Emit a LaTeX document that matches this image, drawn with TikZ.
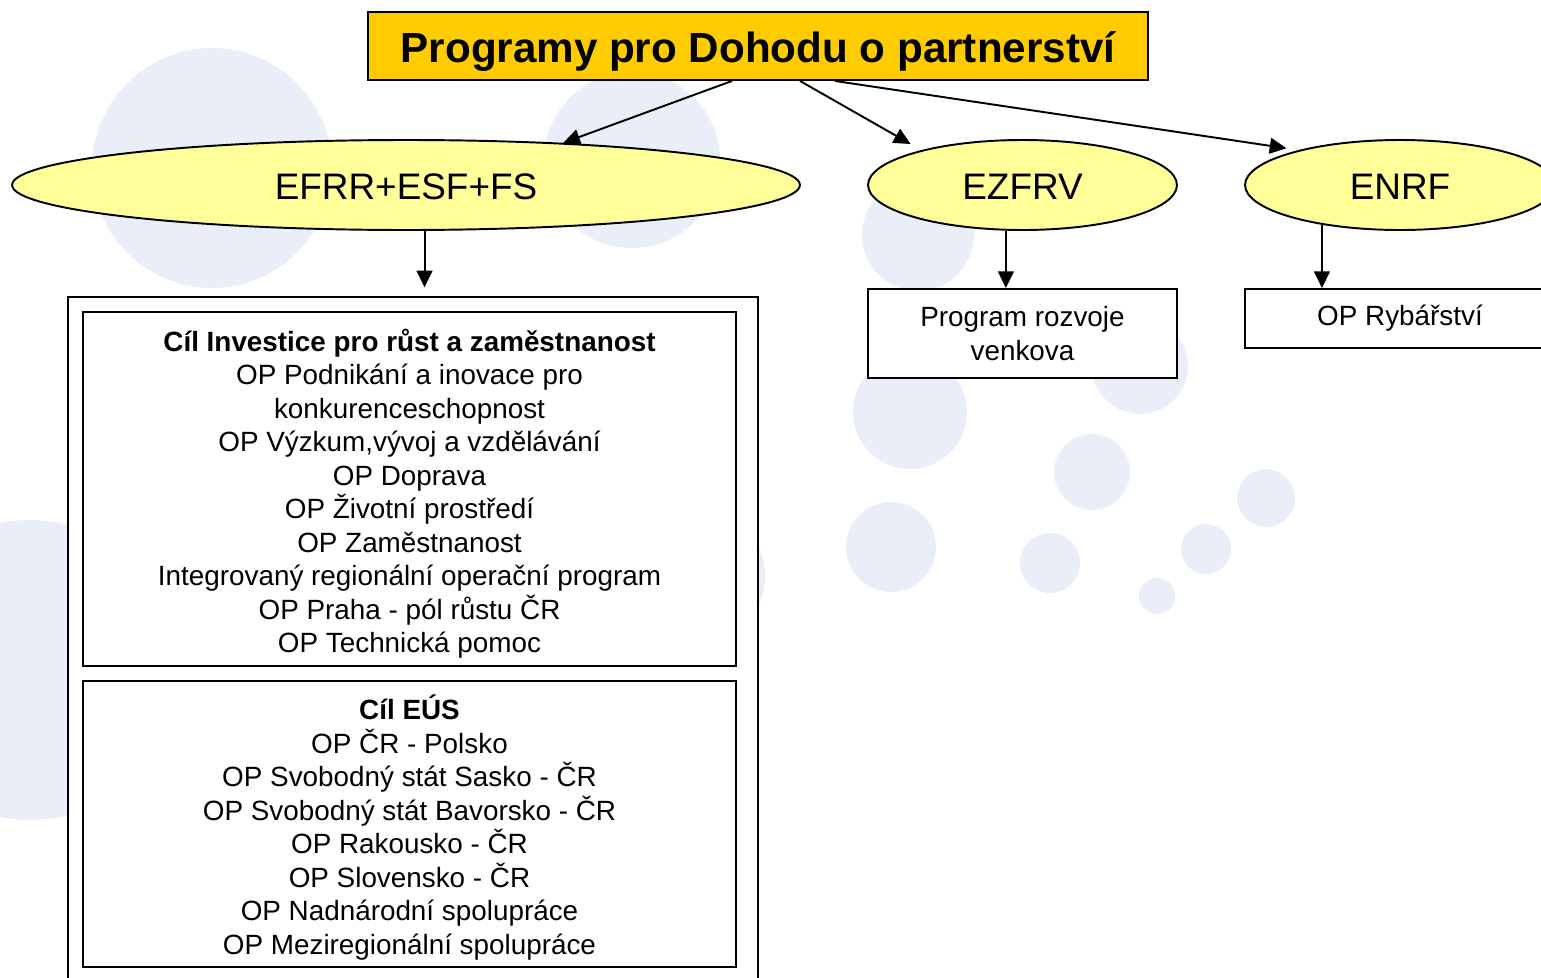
\documentclass[tikz,border=0pt]{standalone}
\usepackage{fontspec}
\setmainfont{Liberation Sans}
\usepackage{tikz}
\usetikzlibrary{arrows.meta}
\usetikzlibrary{shapes}
\usetikzlibrary{calc}
\tikzset{>={Triangle[length=9.5pt,width=9pt]}}
\definecolor{titlegold}{HTML}{FFCC00}
\definecolor{fundyellow}{HTML}{FFFF99}
\definecolor{bubble}{RGB}{234,238,248}

\begin{document}
\begin{tikzpicture}[x=0.02cm,y=-0.02cm]
  \tikzset{box/.style={draw, line width=1.1pt, fill=white, align=center, inner sep=0pt, font=\fontsize{15.85}{19.05}\selectfont},
           fund/.style={ellipse, draw, line width=1.1pt, fill=fundyellow, inner sep=0pt, minimum height=1.8cm, text height=17pt, text depth=0pt, font=\fontsize{21}{25}\selectfont},
           link/.style={->, line width=1.1pt}}
  \useasboundingbox (0,0) rectangle (1541,977);
  \clip (0,0) rectangle (1541,977);
  \foreach \x/\y/\r in {212/168/120, 632/160/88, 30/670/150, 690/576/75, 918/235/56, 910/412/57, 1140/366/48,
                        1092/472/38, 891/547/45, 1050/563/30, 1157/596/18, 1206/549/25, 1266/498/29}
    \fill[bubble] (\x,\y) circle[radius=\r*0.02cm];
  \node[box, fill=titlegold, minimum width=15.6cm, minimum height=1.36cm, text height=19.2pt, text depth=0pt, font=\fontsize{24}{29}\selectfont\bfseries] (titul) at (758,46) {Programy pro Dohodu o partnerství};
  \node[fund, minimum width=15.76cm] (efrr) at (406,185) {EFRR+ESF+FS};
  \node[fund, minimum width=6.18cm] (ezfrv) at (1022.5,185) {EZFRV};
  \node[fund, minimum width=6.2cm] (enrf) at (1400,185) {ENRF};
  \node[box, minimum width=13.8cm, minimum height=14.06cm] (cile) at (413,648.5) {};
  \node[box, minimum width=13.06cm, minimum height=7.08cm] (invest) at (409.5,489) {\rule{0pt}{18pt}\textbf{Cíl Investice pro růst a zaměstnanost}\\OP Podnikání a inovace pro\\konkurenceschopnost\\OP Výzkum,vývoj a vzdělávání\\OP Doprava\\OP Životní prostředí\\OP Zaměstnanost\\Integrovaný regionální operační program\\OP Praha - pól růstu ČR\\OP Technická pomoc};
  \node[box, minimum width=13.06cm, minimum height=5.72cm] (eus) at (409.5,824) {\rule{0pt}{18pt}\textbf{Cíl EÚS}\\OP ČR - Polsko\\OP Svobodný stát Sasko - ČR\\OP Svobodný stát Bavorsko - ČR\\OP Rakousko - ČR\\OP Slovensko - ČR\\OP Nadnárodní spolupráce\\OP Meziregionální spolupráce};
  \node[box, minimum width=6.18cm, minimum height=1.78cm] (rozvoj) at (1022.5,333.5) {Program rozvoje\\venkova};
  \node[box, minimum width=6.2cm, minimum height=1.18cm] (rybar) at (1400,318.5) {OP Rybářství};
  \draw[link] ($(titul.south)+(-26,0)$) -- (efrr.15);
  \draw[link, shorten >=7pt] ($(titul.south)+(42,0)$) -- (ezfrv.161);
  \draw[link, shorten >=7pt] ($(titul.south)+(77,0)$) -- (enrf.161);
  \draw[link, shorten >=5pt] (efrr.292) -- (efrr.292 |- cile.north);
  \draw[link] (ezfrv.250) -- (ezfrv.250 |- rozvoj.north);
  \draw[link] (enrf.207) -- (enrf.207 |- rybar.north);
\end{tikzpicture}
\end{document}
